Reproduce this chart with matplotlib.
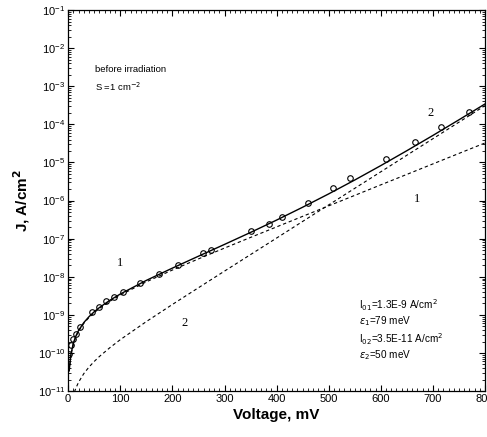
import matplotlib
matplotlib.use("Agg")
import matplotlib.pyplot as plt
from matplotlib.ticker import MultipleLocator, LogLocator, NullFormatter

plt.rcParams['font.family'] = ['Liberation Sans', 'DejaVu Sans']

# measured points (voltage mV, current density A/cm2)
v_meas = [2, 5.7, 10, 15.3, 22, 46, 59, 73, 88, 106, 137, 175, 210, 258, 274,
          350, 386, 411, 461, 509, 541, 610, 665, 715, 770]
j_meas = [9.3e-11, 1.6e-10, 2.3e-10, 3.2e-10, 4.8e-10, 1.17e-9, 1.66e-9, 2.3e-9,
          2.9e-9, 4.0e-9, 6.8e-9, 1.2e-8, 2.1e-8, 4.2e-8, 5.0e-8,
          1.55e-7, 2.5e-7, 3.7e-7, 8.6e-7, 2.1e-6, 4.0e-6, 1.2e-5, 3.4e-5, 8.3e-5, 2.1e-4]

# fitted curves
v_fit = [2, 5, 10, 15, 20, 30, 40, 50, 60, 80, 100, 150, 200, 250, 300,
         350, 400, 450, 500, 550, 600, 650, 700, 750, 800]
j_total = [3.44e-11, 8.85e-11, 1.83e-10, 2.84e-10, 3.92e-10, 6.29e-10, 9.0e-10,
           1.21e-9, 1.56e-9, 2.42e-9, 3.53e-9, 8.05e-9, 1.69e-8, 3.47e-8, 7.08e-8,
           1.46e-7, 3.08e-7, 6.70e-7, 1.50e-6, 3.47e-6, 8.29e-6, 2.04e-5, 5.13e-5,
           1.32e-4, 3.44e-4]
j_one = [3.3e-11, 8.5e-11, 1.75e-10, 2.72e-10, 3.75e-10, 6.0e-10, 8.57e-10,
         1.15e-9, 1.48e-9, 2.28e-9, 3.31e-9, 7.38e-9, 1.505e-8, 2.95e-8, 5.67e-8,
         1.08e-7, 2.04e-7, 3.86e-7, 7.28e-7, 1.37e-6, 2.59e-6, 4.87e-6, 9.18e-6,
         1.73e-5, 3.25e-5]
v_two = [12, 15, 20, 30, 40, 50, 60, 80, 100, 150, 200, 250, 300,
         350, 400, 450, 500, 550, 600, 650, 700, 750, 800]
j_two = [9.5e-12, 1.22e-11, 1.72e-11, 2.88e-11, 4.29e-11, 6.01e-11, 8.12e-11,
         1.38e-10, 2.24e-10, 6.68e-10, 1.88e-9, 5.16e-9, 1.41e-8, 3.83e-8,
         1.04e-7, 2.84e-7, 7.71e-7, 2.10e-6, 5.70e-6, 1.55e-5, 4.21e-5,
         1.144e-4, 3.11e-4]

fig = plt.figure(figsize=(4.87, 4.37), dpi=100)
ax = fig.add_axes([0.140, 0.105, 0.856, 0.872])

ax.plot(v_fit, j_total, color='black', lw=1.0)
ax.plot(v_fit, j_one, color='black', lw=0.8, ls=(0, (3, 2.5)))
ax.plot(v_two, j_two, color='black', lw=0.8, ls=(0, (3, 2.5)))
ax.plot(v_meas, j_meas, 'o', mfc='none', mec='black', ms=4, mew=0.8)

ax.set_yscale('log')
ax.set_xlim(0, 800)
ax.set_ylim(1e-11, 1e-1)
ax.xaxis.set_major_locator(MultipleLocator(100))
ax.xaxis.set_minor_locator(MultipleLocator(10))
ax.yaxis.set_major_locator(LogLocator(base=10, numticks=20))
ax.yaxis.set_minor_locator(LogLocator(base=10, subs=range(2, 10), numticks=20))
ax.yaxis.set_minor_formatter(NullFormatter())

ax.tick_params(which='both', top=True, right=True, direction='in', labelsize=8, pad=2)
ax.tick_params(which='major', length=4, width=0.8)
ax.tick_params(which='minor', length=2, width=0.6)
for s in ax.spines.values():
    s.set_linewidth(0.9)

ax.set_xlabel('Voltage, mV', fontsize=11, fontweight='bold', labelpad=3)
ax.set_ylabel('J, A/cm$^\\mathbf{2}$', fontsize=11, fontweight='bold', labelpad=4)

ax.text(52, 10**-2.55, 'before irradiation', fontsize=6.8, va='center')
ax.text(52, 10**-3.02, 'S =1 cm$^{-2}$', fontsize=6.8, va='center')

ax.text(558, 10**-8.74, 'I$_{01}$=1.3E-9 A/cm$^2$', fontsize=7.2, va='center')
ax.text(558, 10**-9.16, '$\\varepsilon_1$=79 meV', fontsize=7.2, va='center')
ax.text(558, 10**-9.63, 'I$_{02}$=3.5E-11 A/cm$^2$', fontsize=7.2, va='center')
ax.text(558, 10**-10.05, '$\\varepsilon_2$=50 meV', fontsize=7.2, va='center')

serif = ['Liberation Serif', 'DejaVu Serif']
ax.text(100, 10**-7.64, '1', fontsize=9, family=serif, ha='center', va='center')
ax.text(223, 10**-9.22, '2', fontsize=9, family=serif, ha='center', va='center')
ax.text(695, 10**-3.70, '2', fontsize=9, family=serif, ha='center', va='center')
ax.text(670, 10**-5.95, '1', fontsize=9, family=serif, ha='center', va='center')

fig.savefig('out.png', dpi=100)
